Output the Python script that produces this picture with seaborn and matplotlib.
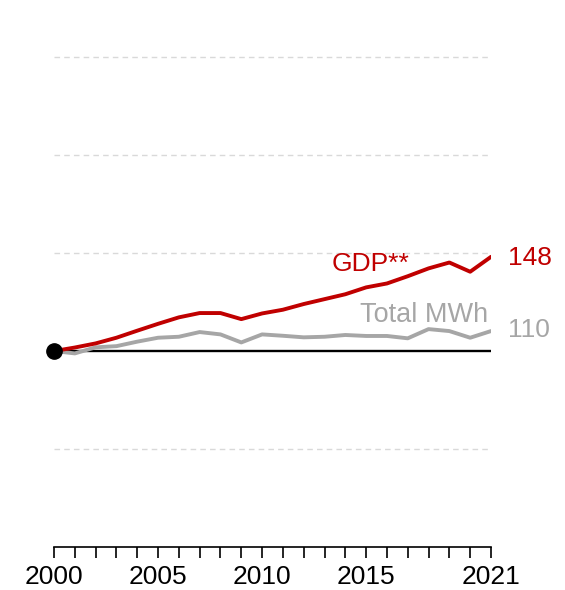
import pandas as pd
import numpy as np
import matplotlib.pyplot as plt
import seaborn as sns

years = list(range(2000, 2022))
gdp = [100, 101.8, 103.9, 106.8, 110.4, 113.9, 117.2, 119.4, 119.4, 116.3, 119.2,
       121.1, 124.0, 126.5, 129.0, 132.5, 134.5, 138.2, 142.2, 145.2, 140.5, 148.1]
mwh = [100, 98.8, 101.9, 102.5, 104.8, 106.8, 107.3, 109.7, 108.5, 104.4, 108.5,
       107.8, 107.0, 107.3, 108.2, 107.7, 107.7, 106.5, 111.2, 110.2, 106.8, 110.2]
series_names = ["GDP**", "Total MWh"]
tick_years = [2000, 2005, 2010, 2015, 2021]
grid_levels = [50, 150, 200, 250]

red = "#C00000"
grey = "#A6A6A6"

df = pd.DataFrame({
    "year": years * 2,
    "value": gdp + mwh,
    "series": [series_names[0]] * len(years) + [series_names[1]] * len(years),
})

sns.set_style("white")
plt.rcParams['font.family'] = ['Liberation Sans', 'DejaVu Sans']

fig, ax = plt.subplots(figsize=(5.65, 5.9), dpi=100)
fig.subplots_adjust(left=0.0956, right=0.869, bottom=0.073, top=0.903)

for lvl in grid_levels:
    ax.axhline(lvl, color="#d9d9d9", lw=1, ls=(0, (4, 3)), zorder=0, clip_on=False)
ax.axhline(100, color="black", lw=1.7, zorder=1)

sns.lineplot(data=df, x="year", y="value", hue="series",
             palette={series_names[0]: red, series_names[1]: grey},
             hue_order=series_names[::-1], lw=2.8, legend=False, ax=ax, zorder=3)
ax.plot([years[0]], [gdp[0]], "o", color="black", ms=11, zorder=5, clip_on=False)

ax.set_xlim(2000, 2021)
ax.set_ylim(0, 250)
ax.set_xticks(years)
ax.set_xticklabels([str(y) if y in tick_years else "" for y in years], fontsize=19, color="black")
ax.tick_params(axis="x", bottom=True, direction="out", length=8, width=1.2,
               color="black", labelcolor="black", pad=5)
ax.set_yticks([])
ax.set_xlabel("")
ax.set_ylabel("")
for s in ["top", "right", "left"]:
    ax.spines[s].set_visible(False)
ax.spines["bottom"].set_color("black")
ax.spines["bottom"].set_linewidth(1.2)

ax.text(2017.1, 144.5, series_names[0], color=red, fontsize=19, ha="right", va="center")
ax.text(2020.86, 118.5, series_names[1], color=grey, fontsize=19.5, ha="right", va="center")
ax.text(2021.8, 147.5, f"{gdp[-1]:.0f}", color=red, fontsize=19, ha="left", va="center")
ax.text(2021.8, 110.5, f"{mwh[-1]:.0f}", color=grey, fontsize=19, ha="left", va="center")

plt.savefig("out.png", dpi=100)
